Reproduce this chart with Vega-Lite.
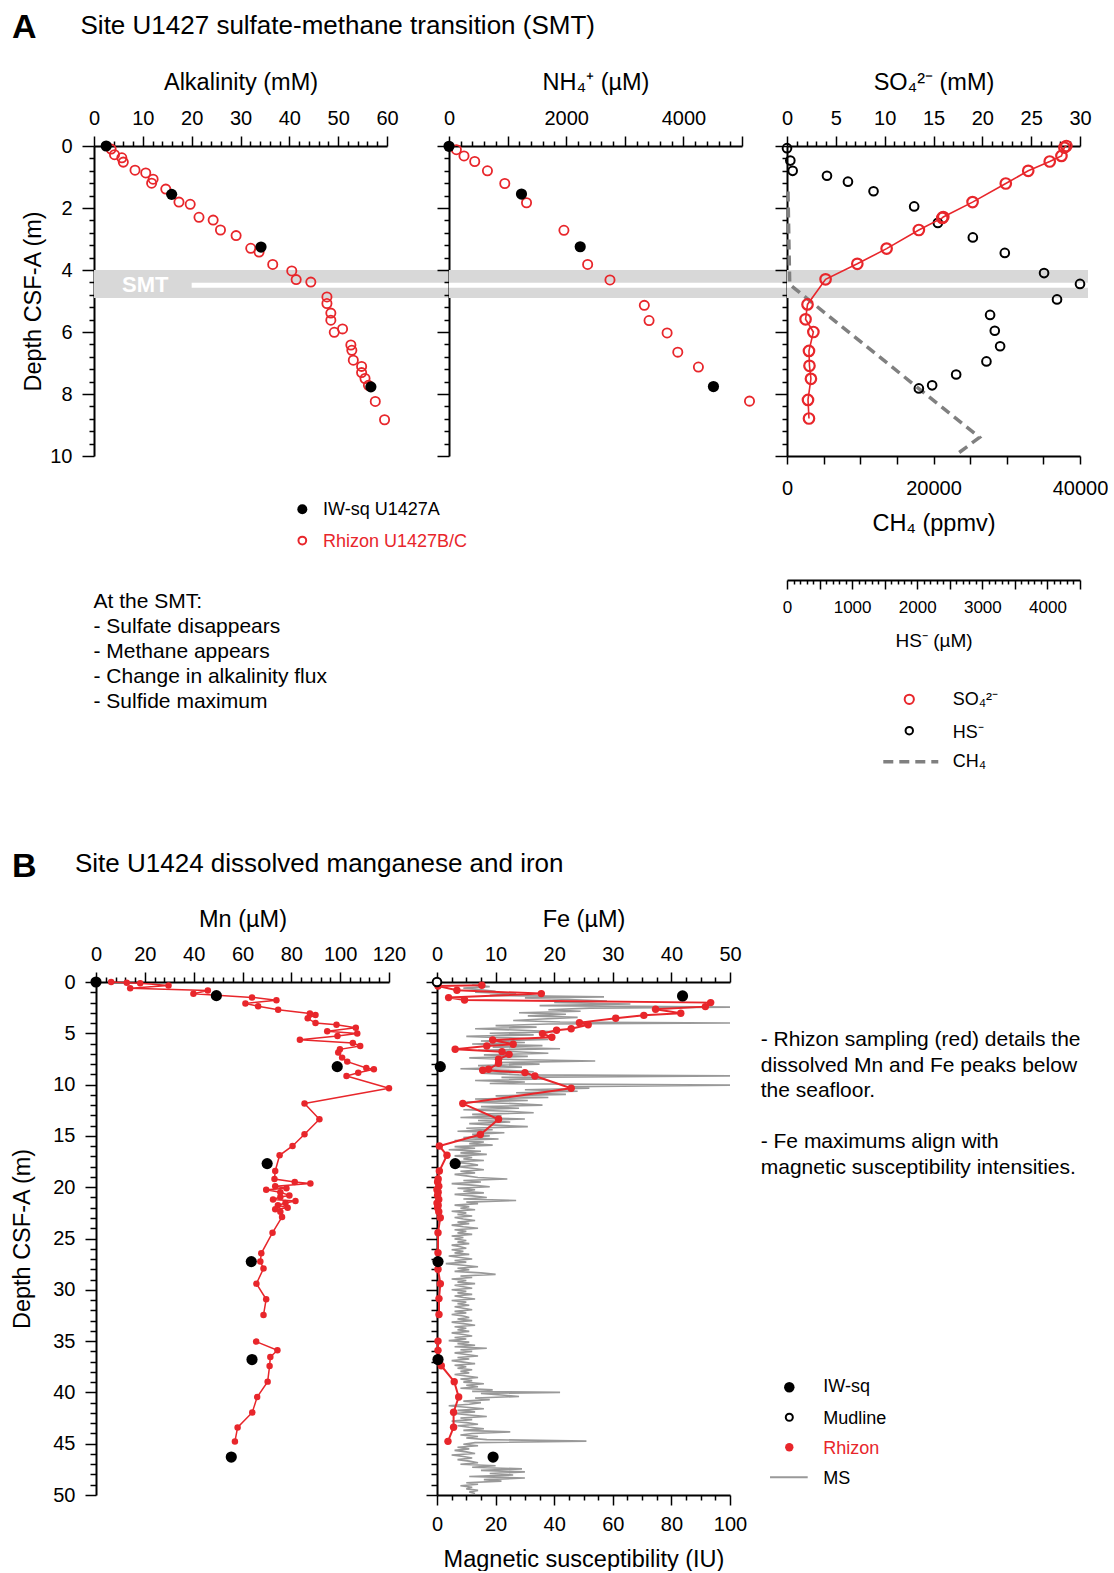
{
"$schema": "https://vega.github.io/schema/vega-lite/v6.json",
"background": "white",
"padding": {"left": 10, "top": 10, "right": 0, "bottom": 0},
"autosize": {"type": "pad"},
"spacing": 79,
"bounds": "full",
"config": {
  "font": "Liberation Sans",
  "view": {"stroke": null},
  "axis": {"grid": false, "labelFlush": false, "labelOverlap": false, "labelBound": false, "domainColor": "black", "tickColor": "black", "labelColor": "black", "titleColor": "black", "labelFontSize": 20, "titleFontSize": 23.5, "titleFontWeight": "normal", "domainWidth": 2, "tickWidth": 1.5, "labelFont": "Liberation Sans", "titleFont": "Liberation Sans"},
  "text": {"font": "Liberation Sans", "color": "black"}
},
"datasets": {
  "alk_r": [{"a":3.5,"d":0.1},{"a":4.2,"d":0.28},{"a":5.7,"d":0.38},{"a":6.0,"d":0.52},{"a":8.4,"d":0.78},{"a":10.6,"d":0.87},{"a":12.1,"d":1.07},{"a":11.8,"d":1.2},{"a":14.7,"d":1.39},{"a":17.4,"d":1.81},{"a":19.7,"d":1.88},{"a":21.5,"d":2.3},{"a":24.4,"d":2.39},{"a":25.9,"d":2.71},{"a":29.1,"d":2.89},{"a":32.1,"d":3.3},{"a":33.8,"d":3.42},{"a":36.6,"d":3.82},{"a":40.5,"d":4.03},{"a":41.4,"d":4.31},{"a":44.4,"d":4.39},{"a":47.7,"d":4.87},{"a":47.7,"d":5.08},{"a":48.5,"d":5.39},{"a":48.5,"d":5.62},{"a":49.2,"d":6.01},{"a":50.9,"d":5.9},{"a":52.6,"d":6.42},{"a":52.8,"d":6.59},{"a":53.1,"d":6.91},{"a":54.8,"d":7.11},{"a":54.8,"d":7.31},{"a":55.5,"d":7.5},{"a":56.2,"d":7.72},{"a":57.6,"d":8.24},{"a":59.5,"d":8.83}],
  "alk_b": [{"a":2.5,"d":0},{"a":15.9,"d":1.56},{"a":34.2,"d":3.26},{"a":56.7,"d":7.77}],
  "nh4_r": [{"n":126,"d":0.12},{"n":256,"d":0.32},{"n":439,"d":0.5},{"n":656,"d":0.8},{"n":952,"d":1.21},{"n":1323,"d":1.83},{"n":1961,"d":2.72},{"n":2366,"d":3.82},{"n":2747,"d":4.32},{"n":3333,"d":5.14},{"n":3414,"d":5.63},{"n":3722,"d":6.03},{"n":3904,"d":6.65},{"n":4256,"d":7.13},{"n":5128,"d":8.23}],
  "nh4_b": [{"n":0,"d":0.01},{"n":1237,"d":1.55},{"n":2239,"d":3.25},{"n":4513,"d":7.76}],
  "so4": [{"s":28.6,"d":0},{"s":28.4,"d":0.05},{"s":28.1,"d":0.32},{"s":26.9,"d":0.5},{"s":24.7,"d":0.8},{"s":22.4,"d":1.21},{"s":19.0,"d":1.81},{"s":16.0,"d":2.29},{"s":15.9,"d":2.32},{"s":13.5,"d":2.71},{"s":10.2,"d":3.31},{"s":7.2,"d":3.8},{"s":3.95,"d":4.3},{"s":2.1,"d":5.11},{"s":1.9,"d":5.59},{"s":2.7,"d":6.0},{"s":2.25,"d":6.61},{"s":2.3,"d":7.09},{"s":2.45,"d":7.51},{"s":2.15,"d":8.19},{"s":2.25,"d":8.79}],
  "hs": [{"h":0,"d":0.07},{"h":51,"d":0.47},{"h":87,"d":0.8},{"h":614,"d":0.96},{"h":936,"d":1.15},{"h":1329,"d":1.46},{"h":1953,"d":1.95},{"h":2317,"d":2.48},{"h":2854,"d":2.95},{"h":3345,"d":3.45},{"h":3948,"d":4.1},{"h":4500,"d":4.45},{"h":4147,"d":4.95},{"h":3119,"d":5.45},{"h":3191,"d":5.96},{"h":3273,"d":6.46},{"h":3063,"d":6.95},{"h":2598,"d":7.37},{"h":2229,"d":7.72},{"h":2025,"d":7.82}],
  "ch4": [{"c":136,"d":1.47},{"c":250,"d":3.0},{"c":370,"d":4.47},{"c":26280,"d":9.4},{"c":22870,"d":10.0}],
  "mn_r": [{"m":6.2,"d":0.0,"g":1},{"m":12.6,"d":0.07,"g":1},{"m":18.1,"d":0.13,"g":1},{"m":29.7,"d":0.33,"g":1},{"m":14.0,"d":0.62,"g":1},{"m":45.8,"d":0.82,"g":1},{"m":39.9,"d":1.15,"g":1},{"m":63.9,"d":1.5,"g":1},{"m":73.9,"d":1.77,"g":1},{"m":61.2,"d":2.09,"g":1},{"m":66.4,"d":2.37,"g":1},{"m":74.6,"d":2.7,"g":1},{"m":87.6,"d":3.06,"g":1},{"m":89.9,"d":3.22,"g":1},{"m":86.7,"d":3.54,"g":1},{"m":89.9,"d":4.0,"g":1},{"m":98.5,"d":4.17,"g":1},{"m":106.4,"d":4.46,"g":1},{"m":94.7,"d":4.81,"g":1},{"m":107.0,"d":5.03,"g":1},{"m":98.9,"d":5.26,"g":1},{"m":83.5,"d":5.62,"g":1},{"m":105.2,"d":5.94,"g":1},{"m":108.2,"d":6.24,"g":1},{"m":99.9,"d":6.56,"g":1},{"m":99.2,"d":6.88,"g":1},{"m":100.8,"d":7.37,"g":1},{"m":102.9,"d":7.76,"g":1},{"m":110.7,"d":8.38,"g":1},{"m":113.8,"d":8.51,"g":1},{"m":107.4,"d":8.84,"g":1},{"m":102.6,"d":9.16,"g":1},{"m":120.0,"d":10.36,"g":1},{"m":85.4,"d":11.85,"g":1},{"m":91.5,"d":13.38,"g":1},{"m":85.4,"d":14.84,"g":1},{"m":80.5,"d":15.98,"g":1},{"m":75.2,"d":16.89,"g":1},{"m":73.4,"d":18.42,"g":1},{"m":73.1,"d":19.2,"g":1},{"m":81.4,"d":19.5,"g":1},{"m":87.8,"d":19.65,"g":1},{"m":73.4,"d":19.9,"g":1},{"m":78.0,"d":20.1,"g":1},{"m":69.7,"d":20.25,"g":1},{"m":75.5,"d":20.5,"g":1},{"m":79.2,"d":20.8,"g":1},{"m":75.5,"d":20.95,"g":1},{"m":72.5,"d":21.2,"g":1},{"m":81.7,"d":21.35,"g":1},{"m":77.6,"d":21.55,"g":1},{"m":74.5,"d":21.75,"g":1},{"m":78.5,"d":22.0,"g":1},{"m":73.4,"d":22.16,"g":1},{"m":75.5,"d":22.4,"g":1},{"m":76.2,"d":22.9,"g":1},{"m":72.3,"d":24.43,"g":1},{"m":67.7,"d":26.44,"g":1},{"m":67.3,"d":27.25,"g":1},{"m":68.6,"d":27.93,"g":1},{"m":65.7,"d":29.4,"g":1},{"m":69.7,"d":30.92,"g":1},{"m":68.6,"d":32.45,"g":1},{"m":65.6,"d":35.05,"g":2},{"m":74.3,"d":35.9,"g":2},{"m":71.4,"d":36.55,"g":2},{"m":71.1,"d":37.42,"g":2},{"m":70.3,"d":38.95,"g":2},{"m":66.0,"d":40.45,"g":2},{"m":64.0,"d":41.95,"g":2},{"m":58.0,"d":43.41,"g":2},{"m":56.9,"d":44.78,"g":2}],
  "mn_b": [{"m":0,"d":0},{"m":49.3,"d":1.33},{"m":98.8,"d":8.25},{"m":70.1,"d":17.7},{"m":63.6,"d":27.25},{"m":63.9,"d":36.8},{"m":55.4,"d":46.3}],
  "fe_r": [{"f":7.65,"d":0.32,"g":1},{"f":0.17,"d":0.39,"g":1},{"f":3.4,"d":0.81,"g":1},{"f":17.8,"d":1.13,"g":1},{"f":1.98,"d":1.52,"g":1},{"f":4.7,"d":1.75,"g":1},{"f":46.7,"d":2.01,"g":1},{"f":45.8,"d":2.4,"g":1},{"f":37.3,"d":2.66,"g":1},{"f":41.6,"d":3.05,"g":1},{"f":35.3,"d":3.25,"g":1},{"f":30.5,"d":3.54,"g":1},{"f":24.3,"d":3.96,"g":1},{"f":25.8,"d":4.16,"g":1},{"f":22.9,"d":4.55,"g":1},{"f":20.4,"d":4.71,"g":1},{"f":18.0,"d":5.03,"g":1},{"f":19.6,"d":5.39,"g":1},{"f":9.5,"d":5.65,"g":1},{"f":13.0,"d":6.07,"g":1},{"f":8.5,"d":6.24,"g":1},{"f":3.1,"d":6.56,"g":1},{"f":11.1,"d":6.79,"g":1},{"f":12.3,"d":7.05,"g":1},{"f":10.5,"d":7.53,"g":1},{"f":10.5,"d":7.92,"g":1},{"f":8.8,"d":8.51,"g":1},{"f":7.8,"d":8.6,"g":1},{"f":15.0,"d":8.83,"g":1},{"f":16.7,"d":9.16,"g":1},{"f":22.9,"d":10.36,"g":1},{"f":4.4,"d":11.85,"g":1},{"f":10.5,"d":13.38,"g":1},{"f":7.4,"d":14.87,"g":1},{"f":0.4,"d":15.98,"g":1},{"f":1.7,"d":16.89,"g":1},{"f":0.4,"d":18.42,"g":1},{"f":0.2,"d":19.2,"g":1},{"f":0.1,"d":19.5,"g":1},{"f":0.3,"d":19.9,"g":1},{"f":0.0,"d":20.25,"g":1},{"f":0.2,"d":20.5,"g":1},{"f":0.1,"d":20.8,"g":1},{"f":0.3,"d":21.2,"g":1},{"f":0.0,"d":21.55,"g":1},{"f":0.2,"d":21.75,"g":1},{"f":0.1,"d":22.0,"g":1},{"f":0.3,"d":22.4,"g":1},{"f":0.56,"d":22.97,"g":1},{"f":0.17,"d":24.43,"g":1},{"f":0.17,"d":26.38,"g":1},{"f":0.17,"d":28.0,"g":1},{"f":0.57,"d":29.4,"g":1},{"f":0.34,"d":30.86,"g":1},{"f":0.34,"d":32.4,"g":1},{"f":0.17,"d":35.0,"g":2},{"f":0.17,"d":35.9,"g":2},{"f":0.73,"d":37.4,"g":2},{"f":2.94,"d":38.95,"g":2},{"f":3.7,"d":40.45,"g":2},{"f":2.83,"d":41.94,"g":2},{"f":2.83,"d":43.4,"g":2},{"f":1.87,"d":44.77,"g":2}],
  "fe_b": [{"f":41.9,"d":1.36},{"f":0.56,"d":8.25},{"f":3.1,"d":17.7},{"f":0.17,"d":27.25},{"f":0.17,"d":36.8},{"f":9.57,"d":46.3}],
  "fe_mud": [{"f":0,"d":0}],
  "ms": [{"d":0.3,"m":12},{"d":0.45,"m":18},{"d":0.6,"m":9},{"d":0.75,"m":15},{"d":0.9,"m":20},{"d":1.0,"m":13},{"d":1.15,"m":27},{"d":1.3,"m":18},{"d":1.45,"m":57},{"d":1.55,"m":30},{"d":1.7,"m":45},{"d":1.85,"m":58},{"d":2.0,"m":40},{"d":2.15,"m":66},{"d":2.3,"m":35},{"d":2.45,"m":100},{"d":2.55,"m":52},{"d":2.7,"m":38},{"d":2.85,"m":49},{"d":3.0,"m":28},{"d":3.15,"m":44},{"d":3.3,"m":31},{"d":3.45,"m":48},{"d":3.6,"m":36},{"d":3.75,"m":26},{"d":3.9,"m":42},{"d":4.0,"m":100},{"d":4.1,"m":38},{"d":4.25,"m":20},{"d":4.4,"m":34},{"d":4.55,"m":13},{"d":4.7,"m":29},{"d":4.85,"m":41},{"d":5.0,"m":18},{"d":5.15,"m":33},{"d":5.3,"m":10},{"d":5.45,"m":25},{"d":5.6,"m":38},{"d":5.75,"m":15},{"d":5.9,"m":30},{"d":6.05,"m":12},{"d":6.2,"m":36},{"d":6.35,"m":19},{"d":6.5,"m":42},{"d":6.65,"m":14},{"d":6.8,"m":27},{"d":6.95,"m":38},{"d":7.1,"m":16},{"d":7.25,"m":31},{"d":7.4,"m":11},{"d":7.55,"m":26},{"d":7.7,"m":54},{"d":7.85,"m":20},{"d":8.0,"m":35},{"d":8.15,"m":14},{"d":8.3,"m":29},{"d":8.45,"m":8},{"d":8.6,"m":24},{"d":8.75,"m":33},{"d":8.9,"m":15},{"d":9.05,"m":28},{"d":9.15,"m":100},{"d":9.3,"m":22},{"d":9.45,"m":37},{"d":9.6,"m":13},{"d":9.75,"m":30},{"d":9.9,"m":18},{"d":10.05,"m":100},{"d":10.2,"m":45},{"d":10.35,"m":52},{"d":10.5,"m":30},{"d":10.65,"m":48},{"d":10.8,"m":27},{"d":10.95,"m":44},{"d":11.1,"m":20},{"d":11.25,"m":38},{"d":11.4,"m":13},{"d":11.55,"m":31},{"d":11.7,"m":10},{"d":11.85,"m":26},{"d":12.0,"m":36},{"d":12.15,"m":15},{"d":12.3,"m":28},{"d":12.45,"m":9},{"d":12.6,"m":24},{"d":12.75,"m":33},{"d":12.9,"m":12},{"d":13.05,"m":22},{"d":13.2,"m":8},{"d":13.35,"m":30},{"d":13.5,"m":14},{"d":13.65,"m":25},{"d":13.8,"m":11},{"d":13.95,"m":20},{"d":14.1,"m":31},{"d":14.25,"m":10},{"d":14.4,"m":19},{"d":14.55,"m":7},{"d":14.7,"m":23},{"d":14.85,"m":12},{"d":15.0,"m":18},{"d":15.15,"m":9},{"d":15.3,"m":21},{"d":15.45,"m":6},{"d":15.6,"m":16},{"d":15.75,"m":11},{"d":15.9,"m":19},{"d":16.05,"m":6},{"d":16.2,"m":13},{"d":16.35,"m":4},{"d":16.5,"m":15},{"d":16.65,"m":8},{"d":16.8,"m":17},{"d":16.95,"m":6},{"d":17.1,"m":12},{"d":17.25,"m":9},{"d":17.4,"m":16},{"d":17.55,"m":5},{"d":17.7,"m":11},{"d":17.85,"m":14},{"d":18.0,"m":7},{"d":18.15,"m":12},{"d":18.3,"m":16},{"d":18.45,"m":8},{"d":18.6,"m":13},{"d":18.75,"m":6},{"d":18.9,"m":10},{"d":19.05,"m":14},{"d":19.2,"m":24},{"d":19.35,"m":9},{"d":19.5,"m":15},{"d":19.65,"m":5},{"d":19.8,"m":12},{"d":19.95,"m":18},{"d":20.1,"m":7},{"d":20.25,"m":13},{"d":20.4,"m":9},{"d":20.55,"m":16},{"d":20.7,"m":6},{"d":20.85,"m":12},{"d":21.0,"m":17},{"d":21.15,"m":9},{"d":21.3,"m":27},{"d":21.45,"m":10},{"d":21.6,"m":14},{"d":21.75,"m":6},{"d":21.9,"m":11},{"d":22.05,"m":8},{"d":22.2,"m":13},{"d":22.35,"m":5},{"d":22.5,"m":10},{"d":22.65,"m":7},{"d":22.8,"m":12},{"d":22.95,"m":6},{"d":23.1,"m":9},{"d":23.25,"m":13},{"d":23.4,"m":7},{"d":23.55,"m":11},{"d":23.7,"m":5},{"d":23.85,"m":9},{"d":24.0,"m":14},{"d":24.15,"m":6},{"d":24.3,"m":10},{"d":24.45,"m":7},{"d":24.6,"m":12},{"d":24.75,"m":5},{"d":24.9,"m":9},{"d":25.05,"m":6},{"d":25.2,"m":10},{"d":25.35,"m":7},{"d":25.5,"m":11},{"d":25.65,"m":5},{"d":25.8,"m":8},{"d":25.95,"m":10},{"d":26.1,"m":5},{"d":26.25,"m":9},{"d":26.4,"m":6},{"d":26.55,"m":11},{"d":26.7,"m":4},{"d":26.85,"m":8},{"d":27.0,"m":12},{"d":27.15,"m":6},{"d":27.3,"m":10},{"d":27.45,"m":3},{"d":27.6,"m":9},{"d":27.75,"m":14},{"d":27.9,"m":7},{"d":28.05,"m":11},{"d":28.2,"m":6},{"d":28.35,"m":15},{"d":28.5,"m":20},{"d":28.65,"m":8},{"d":28.8,"m":12},{"d":28.95,"m":5},{"d":29.1,"m":10},{"d":29.25,"m":7},{"d":29.4,"m":13},{"d":29.55,"m":6},{"d":29.7,"m":9},{"d":29.85,"m":12},{"d":30.0,"m":5},{"d":30.15,"m":10},{"d":30.3,"m":7},{"d":30.45,"m":12},{"d":30.6,"m":6},{"d":30.75,"m":9},{"d":30.9,"m":13},{"d":31.05,"m":5},{"d":31.2,"m":10},{"d":31.35,"m":7},{"d":31.5,"m":11},{"d":31.65,"m":6},{"d":31.8,"m":9},{"d":31.95,"m":12},{"d":32.1,"m":6},{"d":32.25,"m":10},{"d":32.4,"m":5},{"d":32.55,"m":9},{"d":32.7,"m":11},{"d":32.85,"m":7},{"d":33.0,"m":12},{"d":33.15,"m":5},{"d":33.3,"m":9},{"d":33.45,"m":13},{"d":33.6,"m":6},{"d":33.75,"m":10},{"d":33.9,"m":7},{"d":34.05,"m":11},{"d":34.2,"m":5},{"d":34.35,"m":9},{"d":34.5,"m":12},{"d":34.65,"m":6},{"d":34.8,"m":10},{"d":34.95,"m":4},{"d":35.1,"m":11},{"d":35.25,"m":7},{"d":35.4,"m":13},{"d":35.55,"m":6},{"d":35.7,"m":17},{"d":35.85,"m":8},{"d":36.0,"m":12},{"d":36.15,"m":6},{"d":36.3,"m":10},{"d":36.45,"m":14},{"d":36.6,"m":7},{"d":36.75,"m":11},{"d":36.9,"m":5},{"d":37.05,"m":9},{"d":37.2,"m":13},{"d":37.35,"m":6},{"d":37.5,"m":10},{"d":37.65,"m":7},{"d":37.8,"m":12},{"d":37.95,"m":8},{"d":38.1,"m":11},{"d":38.25,"m":6},{"d":38.4,"m":10},{"d":38.55,"m":14},{"d":38.7,"m":8},{"d":38.85,"m":12},{"d":39.0,"m":9},{"d":39.15,"m":16},{"d":39.3,"m":10},{"d":39.45,"m":14},{"d":39.6,"m":8},{"d":39.75,"m":19},{"d":39.9,"m":12},{"d":40.0,"m":42},{"d":40.1,"m":15},{"d":40.25,"m":22},{"d":40.4,"m":28},{"d":40.55,"m":13},{"d":40.7,"m":18},{"d":40.85,"m":9},{"d":41.0,"m":15},{"d":41.15,"m":11},{"d":41.3,"m":4},{"d":41.45,"m":10},{"d":41.6,"m":16},{"d":41.75,"m":7},{"d":41.9,"m":13},{"d":42.05,"m":6},{"d":42.2,"m":11},{"d":42.35,"m":17},{"d":42.5,"m":8},{"d":42.65,"m":12},{"d":42.8,"m":5},{"d":42.95,"m":10},{"d":43.1,"m":14},{"d":43.25,"m":7},{"d":43.4,"m":11},{"d":43.55,"m":16},{"d":43.7,"m":9},{"d":43.85,"m":25},{"d":44.0,"m":12},{"d":44.15,"m":8},{"d":44.3,"m":14},{"d":44.45,"m":10},{"d":44.6,"m":17},{"d":44.75,"m":51},{"d":44.9,"m":13},{"d":45.05,"m":9},{"d":45.2,"m":14},{"d":45.35,"m":7},{"d":45.5,"m":11},{"d":45.65,"m":6},{"d":45.8,"m":10},{"d":45.95,"m":13},{"d":46.1,"m":5},{"d":46.25,"m":9},{"d":46.4,"m":12},{"d":46.55,"m":7},{"d":46.7,"m":11},{"d":46.85,"m":14},{"d":47.0,"m":8},{"d":47.15,"m":20},{"d":47.3,"m":12},{"d":47.45,"m":29},{"d":47.6,"m":15},{"d":47.75,"m":30},{"d":47.9,"m":18},{"d":48.05,"m":26},{"d":48.2,"m":11},{"d":48.35,"m":30},{"d":48.5,"m":16},{"d":48.65,"m":22},{"d":48.8,"m":10},{"d":48.95,"m":14},{"d":49.1,"m":8},{"d":49.25,"m":12},{"d":49.4,"m":10},{"d":49.55,"m":14},{"d":49.7,"m":11},{"d":49.85,"m":13}]
},
"vconcat": [
{
"hconcat": [
{
  "width": 293, "height": 310,
  "resolve": {"axis": {"x": "independent", "y": "independent"}},
  "layer": [
    {"data": {"values": [{}]}, "mark": {"type": "rect", "color": "#d8d8d8"},
     "encoding": {"x": {"datum": 0, "type": "quantitative", "scale": {"domain": [0, 60], "nice": false, "zero": false}, "axis": null}, "x2": {"datum": 72.7},
                  "y": {"datum": 4.0, "type": "quantitative", "scale": {"domain": [0, 10], "reverse": true, "nice": false, "zero": false}, "axis": null}, "y2": {"datum": 4.9}}},
    {"data": {"values": [{}]}, "mark": {"type": "rule", "color": "white", "strokeWidth": 5},
     "encoding": {"x": {"datum": 20, "type": "quantitative", "axis": null}, "x2": {"datum": 72.7}, "y": {"datum": 4.49, "type": "quantitative", "axis": null}}},
    {"data": {"values": [{}]}, "mark": {"type": "text", "text": "SMT", "color": "white", "fontSize": 22, "fontWeight": "bold", "align": "center", "baseline": "middle"},
     "encoding": {"x": {"datum": 10.5, "type": "quantitative", "axis": null}, "y": {"datum": 4.49, "type": "quantitative", "axis": null}}},
    {"data": {"name": "alk_r"}, "mark": {"type": "point", "shape": "circle", "filled": false, "color": "#e8262b", "strokeWidth": 1.8, "size": 85, "opacity": 1},
     "encoding": {"x": {"field": "a", "type": "quantitative", "axis": null}, "y": {"field": "d", "type": "quantitative", "axis": null}}},
    {"data": {"name": "alk_b"}, "mark": {"type": "circle", "color": "black", "size": 125, "opacity": 1},
     "encoding": {"x": {"field": "a", "type": "quantitative", "axis": null}, "y": {"field": "d", "type": "quantitative", "axis": null}}},
    {"data": {"values": [{}]}, "mark": {"type": "point", "opacity": 0},
     "encoding": {"x": {"datum": 0, "type": "quantitative", "axis": {"orient": "top", "values": [0,10,20,30,40,50,60], "tickSize": 10, "labelPadding": 8, "title": "Alkalinity (mM)", "titlePadding": 14}},
                  "y": {"datum": 0, "type": "quantitative", "axis": {"orient": "left", "values": [0,2,4,6,8,10], "tickSize": 12, "labelPadding": 10, "title": "Depth CSF-A (m)", "titlePadding": 4}}}},
    {"data": {"values": [{}]}, "mark": {"type": "point", "opacity": 0},
     "encoding": {"x": {"datum": 0, "type": "quantitative", "axis": {"orient": "top", "values": [2,4,6,8,12,14,16,18,22,24,26,28,32,34,36,38,42,44,46,48,52,54,56,58], "tickSize": 5, "labels": false, "domain": false, "title": null}},
                  "y": {"datum": 0, "type": "quantitative", "axis": {"orient": "left", "values": [0.4,0.8,1.2,1.6,2.4,2.8,3.2,3.6,4.4,4.8,5.2,5.6,6.4,6.8,7.2,7.6,8.4,8.8,9.2,9.6], "tickSize": 5, "labels": false, "domain": false, "title": null}}}},
    {"data": {"values": [{}]}, "mark": {"type": "text", "text": "A", "fontSize": 34, "fontWeight": "bold", "align": "left", "baseline": "alphabetic"},
     "encoding": {"x": {"datum": -16.79, "type": "quantitative", "axis": null}, "y": {"datum": -3.494, "type": "quantitative", "axis": null}}},
    {"data": {"values": [{}]}, "mark": {"type": "text", "text": "Site U1427 sulfate-methane transition (SMT)", "fontSize": 26, "align": "left", "baseline": "alphabetic"},
     "encoding": {"x": {"datum": -2.76, "type": "quantitative", "axis": null}, "y": {"datum": -3.603, "type": "quantitative", "axis": null}}},
    {"data": {"values": [{}]}, "mark": {"type": "circle", "color": "black", "size": 100, "opacity": 1},
     "encoding": {"x": {"datum": 42.66, "type": "quantitative", "axis": null}, "y": {"datum": 11.719, "type": "quantitative", "axis": null}}},
    {"data": {"values": [{}]}, "mark": {"type": "text", "text": "IW-sq U1427A", "fontSize": 18, "align": "left", "baseline": "alphabetic"},
     "encoding": {"x": {"datum": 46.89, "type": "quantitative", "axis": null}, "y": {"datum": 11.903, "type": "quantitative", "axis": null}}},
    {"data": {"values": [{}]}, "mark": {"type": "point", "shape": "circle", "filled": false, "color": "#e8262b", "strokeWidth": 2, "size": 60, "opacity": 1},
     "encoding": {"x": {"datum": 42.66, "type": "quantitative", "axis": null}, "y": {"datum": 12.726, "type": "quantitative", "axis": null}}},
    {"data": {"values": [{}]}, "mark": {"type": "text", "text": "Rhizon U1427B/C", "fontSize": 18, "color": "#e8262b", "align": "left", "baseline": "alphabetic"},
     "encoding": {"x": {"datum": 46.89, "type": "quantitative", "axis": null}, "y": {"datum": 12.926, "type": "quantitative", "axis": null}}},
    {"data": {"values": [{}]}, "mark": {"type": "text", "text": ["At the SMT:", "- Sulfate disappears", "- Methane appears", "- Change in alkalinity flux", "- Sulfide maximum"], "fontSize": 21, "lineHeight": 25, "align": "left", "baseline": "alphabetic"},
     "encoding": {"x": {"datum": -0.1, "type": "quantitative", "axis": null}, "y": {"datum": 14.913, "type": "quantitative", "axis": null}}}
  ]
},
{"width": 62, "height": 310, "data": {"values": [{}]}, "mark": {"type": "point", "opacity": 0}, "encoding": {}},
{
  "width": 293, "height": 310,
  "resolve": {"axis": {"x": "independent", "y": "independent"}},
  "layer": [
    {"data": {"values": [{}]}, "mark": {"type": "rect", "color": "#d8d8d8"},
     "encoding": {"x": {"datum": 0, "type": "quantitative", "scale": {"domain": [0, 5000], "nice": false, "zero": false}, "axis": null}, "x2": {"datum": 5768},
                  "y": {"datum": 4.0, "type": "quantitative", "scale": {"domain": [0, 10], "reverse": true, "nice": false, "zero": false}, "axis": null}, "y2": {"datum": 4.9}}},
    {"data": {"values": [{}]}, "mark": {"type": "rule", "color": "white", "strokeWidth": 5},
     "encoding": {"x": {"datum": 0, "type": "quantitative", "axis": null}, "x2": {"datum": 5768}, "y": {"datum": 4.49, "type": "quantitative", "axis": null}}},
    {"data": {"name": "nh4_r"}, "mark": {"type": "point", "shape": "circle", "filled": false, "color": "#e8262b", "strokeWidth": 1.8, "size": 85, "opacity": 1},
     "encoding": {"x": {"field": "n", "type": "quantitative", "axis": null}, "y": {"field": "d", "type": "quantitative", "axis": null}}},
    {"data": {"name": "nh4_b"}, "mark": {"type": "circle", "color": "black", "size": 125, "opacity": 1},
     "encoding": {"x": {"field": "n", "type": "quantitative", "axis": null}, "y": {"field": "d", "type": "quantitative", "axis": null}}},
    {"data": {"values": [{}]}, "mark": {"type": "point", "opacity": 0},
     "encoding": {"x": {"datum": 0, "type": "quantitative", "axis": {"orient": "top", "values": [0,1000,2000,3000,4000,5000], "format": "d", "labelExpr": "datum.value % 2000 === 0 ? datum.label : ''", "tickSize": 10, "labelPadding": 8, "title": "NH₄⁺ (µM)", "titlePadding": 14}},
                  "y": {"datum": 0, "type": "quantitative", "axis": {"orient": "left", "values": [0,2,4,6,8,10], "tickSize": 12, "labels": false, "title": null}}}},
    {"data": {"values": [{}]}, "mark": {"type": "point", "opacity": 0},
     "encoding": {"x": {"datum": 0, "type": "quantitative", "axis": {"orient": "top", "values": [200,400,600,800,1200,1400,1600,1800,2200,2400,2600,2800,3200,3400,3600,3800,4200,4400,4600,4800], "tickSize": 5, "labels": false, "domain": false, "title": null}},
                  "y": {"datum": 0, "type": "quantitative", "axis": {"orient": "left", "values": [0.4,0.8,1.2,1.6,2.4,2.8,3.2,3.6,4.4,4.8,5.2,5.6,6.4,6.8,7.2,7.6,8.4,8.8,9.2,9.6], "tickSize": 5, "labels": false, "domain": false, "title": null}}}}
  ]
},
{"width": 45, "height": 310, "data": {"values": [{}]}, "mark": {"type": "point", "opacity": 0}, "encoding": {}},
{
  "width": 293, "height": 310,
  "resolve": {"scale": {"x": "independent"}, "axis": {"y": "independent"}},
  "layer": [
    {"data": {"values": [{}]}, "mark": {"type": "rect", "color": "#d8d8d8"},
     "encoding": {"x": {"datum": 0, "type": "quantitative", "scale": {"domain": [0, 30], "nice": false, "zero": false}, "axis": null}, "x2": {"datum": 30.82},
                  "y": {"datum": 4.0, "type": "quantitative", "scale": {"domain": [0, 10], "reverse": true, "nice": false, "zero": false}, "axis": null}, "y2": {"datum": 4.9}}},
    {"data": {"values": [{}]}, "mark": {"type": "rule", "color": "white", "strokeWidth": 5},
     "encoding": {"x": {"datum": 0, "type": "quantitative", "scale": {"domain": [0, 30], "nice": false, "zero": false}, "axis": null}, "x2": {"datum": 30.82}, "y": {"datum": 4.49, "type": "quantitative", "axis": null}}},
    {"data": {"name": "ch4"}, "mark": {"type": "line", "color": "#808080", "strokeWidth": 3.5, "strokeDash": [10, 6]},
     "encoding": {"x": {"field": "c", "type": "quantitative", "scale": {"domain": [0, 40000], "nice": false, "zero": false},
                        "axis": {"orient": "bottom", "values": [0,5000,10000,15000,20000,25000,30000,35000,40000], "format": "d", "labelExpr": "datum.value % 20000 === 0 ? datum.label : ''", "tickSize": 8, "labelPadding": 14, "title": "CH₄ (ppmv)", "titlePadding": 13}},
                  "y": {"field": "d", "type": "quantitative", "axis": null}, "order": {"field": "d"}}},
    {"data": {"name": "hs"}, "mark": {"type": "point", "shape": "circle", "filled": false, "color": "black", "strokeWidth": 2, "size": 75, "opacity": 1},
     "encoding": {"x": {"field": "h", "type": "quantitative", "scale": {"domain": [0, 4500], "nice": false, "zero": false},
                        "axis": {"orient": "bottom", "offset": 124, "values": [0,500,1000,1500,2000,2500,3000,3500,4000,4500], "format": "d", "labelExpr": "datum.value % 1000 === 0 ? datum.label : ''", "tickSize": 9, "labelPadding": 10, "labelFontSize": 17, "title": "HS⁻ (µM)", "titleFontSize": 19, "titlePadding": 16}},
                  "y": {"field": "d", "type": "quantitative", "axis": null}}},
    {"data": {"values": [{}]}, "mark": {"type": "point", "opacity": 0},
     "encoding": {"x": {"datum": 0, "type": "quantitative", "scale": {"domain": [0, 4500], "nice": false, "zero": false},
                        "axis": {"orient": "bottom", "offset": 124, "values": [100,200,300,400,600,700,800,900,1100,1200,1300,1400,1600,1700,1800,1900,2100,2200,2300,2400,2600,2700,2800,2900,3100,3200,3300,3400,3600,3700,3800,3900,4100,4200,4300,4400], "tickSize": 4, "labels": false, "domain": false, "title": null}},
                  "y": {"datum": 0, "type": "quantitative", "axis": null}}},
    {"data": {"name": "so4"}, "mark": {"type": "line", "color": "#e8262b", "strokeWidth": 1.6, "point": {"shape": "circle", "filled": false, "color": "#e8262b", "strokeWidth": 2.2, "size": 110, "opacity": 1}},
     "encoding": {"x": {"field": "s", "type": "quantitative", "scale": {"domain": [0, 30], "nice": false, "zero": false},
                        "axis": {"orient": "top", "values": [0,5,10,15,20,25,30], "tickSize": 10, "labelPadding": 8, "title": "SO₄²⁻ (mM)", "titlePadding": 14}},
                  "y": {"field": "d", "type": "quantitative", "axis": {"orient": "left", "values": [0,2,4,6,8,10], "tickSize": 12, "labels": false, "title": null}}, "order": {"field": "d"}}},
    {"data": {"values": [{}]}, "mark": {"type": "point", "opacity": 0},
     "encoding": {"x": {"datum": 0, "type": "quantitative", "scale": {"domain": [0, 30], "nice": false, "zero": false},
                        "axis": {"orient": "top", "values": [1,2,3,4,6,7,8,9,11,12,13,14,16,17,18,19,21,22,23,24,26,27,28,29], "tickSize": 5, "labels": false, "domain": false, "title": null}},
                  "y": {"datum": 0, "type": "quantitative", "axis": {"orient": "left", "values": [0.4,0.8,1.2,1.6,2.4,2.8,3.2,3.6,4.4,4.8,5.2,5.6,6.4,6.8,7.2,7.6,8.4,8.8,9.2,9.6], "tickSize": 5, "labels": false, "domain": false, "title": null}}}},
    {"data": {"values": [{}]}, "mark": {"type": "point", "shape": "circle", "filled": false, "color": "#e8262b", "strokeWidth": 2, "size": 85, "opacity": 1},
     "encoding": {"x": {"datum": 12.52, "type": "quantitative", "scale": {"domain": [0, 30], "nice": false, "zero": false}, "axis": null}, "y": {"datum": 17.848, "type": "quantitative", "axis": null}}},
    {"data": {"values": [{}]}, "mark": {"type": "text", "text": "SO₄²⁻", "fontSize": 18, "align": "left", "baseline": "alphabetic"},
     "encoding": {"x": {"datum": 16.97, "type": "quantitative", "scale": {"domain": [0, 30], "nice": false, "zero": false}, "axis": null}, "y": {"datum": 18.032, "type": "quantitative", "axis": null}}},
    {"data": {"values": [{}]}, "mark": {"type": "point", "shape": "circle", "filled": false, "color": "black", "strokeWidth": 2, "size": 55, "opacity": 1},
     "encoding": {"x": {"datum": 12.52, "type": "quantitative", "scale": {"domain": [0, 30], "nice": false, "zero": false}, "axis": null}, "y": {"datum": 18.861, "type": "quantitative", "axis": null}}},
    {"data": {"values": [{}]}, "mark": {"type": "text", "text": "HS⁻", "fontSize": 18, "align": "left", "baseline": "alphabetic"},
     "encoding": {"x": {"datum": 16.97, "type": "quantitative", "scale": {"domain": [0, 30], "nice": false, "zero": false}, "axis": null}, "y": {"datum": 19.087, "type": "quantitative", "axis": null}}},
    {"data": {"values": [{}]}, "mark": {"type": "rule", "color": "#808080", "strokeWidth": 3.5, "strokeDash": [10, 6]},
     "encoding": {"x": {"datum": 9.86, "type": "quantitative", "scale": {"domain": [0, 30], "nice": false, "zero": false}, "axis": null}, "x2": {"datum": 15.49}, "y": {"datum": 19.861, "type": "quantitative", "axis": null}}},
    {"data": {"values": [{}]}, "mark": {"type": "text", "text": "CH₄", "fontSize": 18, "align": "left", "baseline": "alphabetic"},
     "encoding": {"x": {"datum": 16.97, "type": "quantitative", "scale": {"domain": [0, 30], "nice": false, "zero": false}, "axis": null}, "y": {"datum": 20.023, "type": "quantitative", "axis": null}}}
  ]
}
],
"spacing": 0,
"bounds": "flush"
},
{
"hconcat": [
{"width": 2, "height": 513, "data": {"values": [{}]}, "mark": {"type": "point", "opacity": 0}, "encoding": {}},
{
  "width": 293, "height": 513,
  "resolve": {"axis": {"x": "independent", "y": "independent"}},
  "layer": [
    {"data": {"name": "mn_r"}, "mark": {"type": "line", "color": "#e8262b", "strokeWidth": 1.5, "point": {"filled": true, "color": "#e8262b", "size": 42, "opacity": 1}},
     "encoding": {"x": {"field": "m", "type": "quantitative", "scale": {"domain": [0, 120], "nice": false, "zero": false},
                        "axis": {"orient": "top", "values": [0,20,40,60,80,100,120], "tickSize": 10, "labelPadding": 8, "title": "Mn (µM)", "titlePadding": 13}},
                  "y": {"field": "d", "type": "quantitative", "scale": {"domain": [0, 50], "reverse": true, "nice": false, "zero": false},
                        "axis": {"orient": "left", "values": [0,5,10,15,20,25,30,35,40,45,50], "tickSize": 11, "labelPadding": 10, "title": "Depth CSF-A (m)", "titlePadding": 18}},
                  "order": {"field": "d"}, "detail": {"field": "g"}}},
    {"data": {"name": "mn_b"}, "mark": {"type": "circle", "color": "black", "size": 125, "opacity": 1},
     "encoding": {"x": {"field": "m", "type": "quantitative", "axis": null}, "y": {"field": "d", "type": "quantitative", "axis": null}}},
    {"data": {"values": [{}]}, "mark": {"type": "point", "opacity": 0},
     "encoding": {"x": {"datum": 0, "type": "quantitative", "axis": {"orient": "top", "values": [4,8,12,16,24,28,32,36,44,48,52,56,64,68,72,76,84,88,92,96,104,108,112,116], "tickSize": 5, "labels": false, "domain": false, "title": null}},
                  "y": {"datum": 0, "type": "quantitative", "axis": {"orient": "left", "values": [1,2,3,4,6,7,8,9,11,12,13,14,16,17,18,19,21,22,23,24,26,27,28,29,31,32,33,34,36,37,38,39,41,42,43,44,46,47,48,49], "tickSize": 6, "labels": false, "domain": false, "title": null}}}},
    {"data": {"values": [{}]}, "mark": {"type": "text", "text": "B", "fontSize": 34, "fontWeight": "bold", "align": "left", "baseline": "alphabetic"},
     "encoding": {"x": {"datum": -34.4, "type": "quantitative", "axis": null}, "y": {"datum": -10.205, "type": "quantitative", "axis": null}}},
    {"data": {"values": [{}]}, "mark": {"type": "text", "text": "Site U1424 dissolved manganese and iron", "fontSize": 26, "align": "left", "baseline": "alphabetic"},
     "encoding": {"x": {"datum": -8.6, "type": "quantitative", "axis": null}, "y": {"datum": -10.692, "type": "quantitative", "axis": null}}}
  ]
},
{"width": 48, "height": 513, "data": {"values": [{}]}, "mark": {"type": "point", "opacity": 0}, "encoding": {}},
{
  "width": 293, "height": 513,
  "resolve": {"scale": {"x": "independent"}, "axis": {"y": "independent"}},
  "layer": [
    {"data": {"name": "ms"}, "mark": {"type": "line", "color": "#999999", "strokeWidth": 1.6},
     "encoding": {"x": {"field": "m", "type": "quantitative", "scale": {"domain": [0, 100], "nice": false, "zero": false},
                        "axis": {"orient": "bottom", "values": [0,20,40,60,80,100], "tickSize": 10, "labelPadding": 9, "title": "Magnetic susceptibility (IU)", "titlePadding": 13}},
                  "y": {"field": "d", "type": "quantitative", "scale": {"domain": [0, 50], "reverse": true, "nice": false, "zero": false}, "axis": null}, "order": {"field": "d"}}},
    {"data": {"values": [{}]}, "mark": {"type": "point", "opacity": 0},
     "encoding": {"x": {"datum": 0, "type": "quantitative", "scale": {"domain": [0, 100], "nice": false, "zero": false},
                        "axis": {"orient": "bottom", "values": [5,10,15,25,30,35,45,50,55,65,70,75,85,90,95], "tickSize": 5, "labels": false, "domain": false, "title": null}},
                  "y": {"datum": 0, "type": "quantitative", "axis": {"orient": "left", "values": [1,2,3,4,6,7,8,9,11,12,13,14,16,17,18,19,21,22,23,24,26,27,28,29,31,32,33,34,36,37,38,39,41,42,43,44,46,47,48,49], "tickSize": 6, "labels": false, "domain": false, "title": null}}}},
    {"data": {"name": "fe_r"}, "mark": {"type": "line", "color": "#e8262b", "strokeWidth": 2, "point": {"filled": true, "color": "#e8262b", "size": 55, "opacity": 1}},
     "encoding": {"x": {"field": "f", "type": "quantitative", "scale": {"domain": [0, 50], "nice": false, "zero": false},
                        "axis": {"orient": "top", "values": [0,10,20,30,40,50], "tickSize": 10, "labelPadding": 8, "title": "Fe (µM)", "titlePadding": 13}},
                  "y": {"field": "d", "type": "quantitative", "axis": {"orient": "left", "values": [0,5,10,15,20,25,30,35,40,45,50], "tickSize": 11, "labels": false, "title": null}},
                  "order": {"field": "d"}, "detail": {"field": "g"}}},
    {"data": {"values": [{}]}, "mark": {"type": "point", "opacity": 0},
     "encoding": {"x": {"datum": 0, "type": "quantitative", "scale": {"domain": [0, 50], "nice": false, "zero": false},
                        "axis": {"orient": "top", "values": [2.5,5,7.5,12.5,15,17.5,22.5,25,27.5,32.5,35,37.5,42.5,45,47.5], "tickSize": 5, "labels": false, "domain": false, "title": null}},
                  "y": {"datum": 0, "type": "quantitative", "axis": null}}},
    {"data": {"name": "fe_b"}, "mark": {"type": "circle", "color": "black", "size": 125, "opacity": 1},
     "encoding": {"x": {"field": "f", "type": "quantitative", "scale": {"domain": [0, 50], "nice": false, "zero": false}, "axis": null}, "y": {"field": "d", "type": "quantitative", "axis": null}}},
    {"data": {"name": "fe_mud"}, "mark": {"type": "point", "shape": "circle", "filled": true, "fill": "white", "stroke": "black", "strokeWidth": 2, "size": 75, "opacity": 1},
     "encoding": {"x": {"field": "f", "type": "quantitative", "scale": {"domain": [0, 50], "nice": false, "zero": false}, "axis": null}, "y": {"field": "d", "type": "quantitative", "axis": null}}},
    {"data": {"values": [{}]}, "mark": {"type": "text", "text": ["- Rhizon sampling (red) details the", "dissolved Mn and Fe peaks below", "the seafloor."], "fontSize": 21, "lineHeight": 25.5, "align": "left", "baseline": "alphabetic"},
     "encoding": {"x": {"datum": 55.24, "type": "quantitative", "scale": {"domain": [0, 50], "nice": false, "zero": false}, "axis": null}, "y": {"datum": 6.267, "type": "quantitative", "axis": null}}},
    {"data": {"values": [{}]}, "mark": {"type": "text", "text": ["- Fe maximums align with", "magnetic susceptibility intensities."], "fontSize": 21, "lineHeight": 25.5, "align": "left", "baseline": "alphabetic"},
     "encoding": {"x": {"datum": 55.24, "type": "quantitative", "scale": {"domain": [0, 50], "nice": false, "zero": false}, "axis": null}, "y": {"datum": 16.21, "type": "quantitative", "axis": null}}},
    {"data": {"values": [{}]}, "mark": {"type": "circle", "color": "black", "size": 110, "opacity": 1},
     "encoding": {"x": {"datum": 60.12, "type": "quantitative", "scale": {"domain": [0, 50], "nice": false, "zero": false}, "axis": null}, "y": {"datum": 39.5, "type": "quantitative", "axis": null}}},
    {"data": {"values": [{}]}, "mark": {"type": "text", "text": "IW-sq", "fontSize": 18, "align": "left", "baseline": "alphabetic"},
     "encoding": {"x": {"datum": 65.92, "type": "quantitative", "scale": {"domain": [0, 50], "nice": false, "zero": false}, "axis": null}, "y": {"datum": 39.99, "type": "quantitative", "axis": null}}},
    {"data": {"values": [{}]}, "mark": {"type": "point", "shape": "circle", "filled": true, "fill": "white", "stroke": "black", "strokeWidth": 2, "size": 50, "opacity": 1},
     "encoding": {"x": {"datum": 60.12, "type": "quantitative", "scale": {"domain": [0, 50], "nice": false, "zero": false}, "axis": null}, "y": {"datum": 42.43, "type": "quantitative", "axis": null}}},
    {"data": {"values": [{}]}, "mark": {"type": "text", "text": "Mudline", "fontSize": 18, "align": "left", "baseline": "alphabetic"},
     "encoding": {"x": {"datum": 65.92, "type": "quantitative", "scale": {"domain": [0, 50], "nice": false, "zero": false}, "axis": null}, "y": {"datum": 43.08, "type": "quantitative", "axis": null}}},
    {"data": {"values": [{}]}, "mark": {"type": "circle", "color": "#e8262b", "size": 70, "opacity": 1},
     "encoding": {"x": {"datum": 60.12, "type": "quantitative", "scale": {"domain": [0, 50], "nice": false, "zero": false}, "axis": null}, "y": {"datum": 45.35, "type": "quantitative", "axis": null}}},
    {"data": {"values": [{}]}, "mark": {"type": "text", "text": "Rhizon", "fontSize": 18, "color": "#e8262b", "align": "left", "baseline": "alphabetic"},
     "encoding": {"x": {"datum": 65.92, "type": "quantitative", "scale": {"domain": [0, 50], "nice": false, "zero": false}, "axis": null}, "y": {"datum": 46.0, "type": "quantitative", "axis": null}}},
    {"data": {"values": [{}]}, "mark": {"type": "rule", "color": "#999999", "strokeWidth": 2},
     "encoding": {"x": {"datum": 56.83, "type": "quantitative", "scale": {"domain": [0, 50], "nice": false, "zero": false}, "axis": null}, "x2": {"datum": 63.26}, "y": {"datum": 48.27, "type": "quantitative", "axis": null}}},
    {"data": {"values": [{}]}, "mark": {"type": "text", "text": "MS", "fontSize": 18, "align": "left", "baseline": "alphabetic"},
     "encoding": {"x": {"datum": 65.92, "type": "quantitative", "scale": {"domain": [0, 50], "nice": false, "zero": false}, "axis": null}, "y": {"datum": 48.93, "type": "quantitative", "axis": null}}}
  ]
}
],
"spacing": 0,
"bounds": "flush"
}
]
}
